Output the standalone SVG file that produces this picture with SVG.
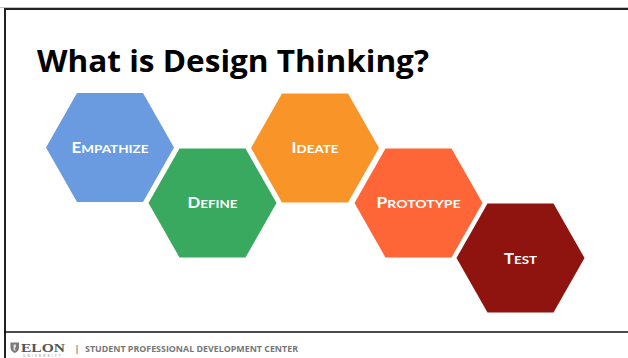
<svg xmlns="http://www.w3.org/2000/svg" width="628" height="358" viewBox="0 0 628 358">
  <defs>
    <style>
      .hexlabel { font-family: Lato, "Open Sans", "Liberation Sans", sans-serif; font-weight: 700; fill: #ffffff; text-anchor: middle; }
      .big { font-size: 15px; }
      .sm { font-size: 12px; }
    </style>
    <polygon id="hex" points="-64,0 -33,-54.5 33,-54.5 64,0 33,54.5 -33,54.5"/>
  </defs>
  <rect x="0" y="0" width="628" height="358" fill="#ffffff"/>

  <!-- slide frame -->
  <g id="frame" fill="none">
    <line x1="0" y1="7.6" x2="628" y2="7.6" stroke="#bbbbbb" stroke-width="1"/>
    <line x1="4" y1="9" x2="628" y2="9" stroke="#222222" stroke-width="2"/>
    <line x1="5" y1="8" x2="5" y2="358" stroke="#222222" stroke-width="2"/>
    <line x1="4" y1="332" x2="628" y2="332" stroke="#111111" stroke-width="1.5"/>
  </g>

  <!-- title -->
  <text id="title" x="37" y="72" font-family="'Open Sans', 'Noto Sans', 'Liberation Sans', sans-serif" font-weight="700" font-size="31" fill="#000000" textLength="392" lengthAdjust="spacingAndGlyphs">What is Design Thinking?</text>

  <!-- hexagon nodes -->
  <g id="node-empathize" transform="translate(110,147.5)">
    <use href="#hex" fill="#6A9BE0"/>
    <text class="hexlabel" x="0" y="5.5" textLength="77" lengthAdjust="spacingAndGlyphs"><tspan class="big">E</tspan><tspan class="sm">MPATHIZE</tspan></text>
  </g>
  <g id="node-define" transform="translate(212.5,203)">
    <use href="#hex" fill="#38A95F"/>
    <text class="hexlabel" x="0" y="4.5" textLength="50" lengthAdjust="spacingAndGlyphs"><tspan class="big">D</tspan><tspan class="sm">EFINE</tspan></text>
  </g>
  <g id="node-ideate" transform="translate(315,148)">
    <use href="#hex" fill="#F99528"/>
    <text class="hexlabel" x="0" y="5" textLength="47" lengthAdjust="spacingAndGlyphs"><tspan class="big">I</tspan><tspan class="sm">DEATE</tspan></text>
  </g>
  <g id="node-prototype" transform="translate(418.5,203)">
    <use href="#hex" fill="#FE6637"/>
    <text class="hexlabel" x="0" y="5" textLength="84" lengthAdjust="spacingAndGlyphs"><tspan class="big">P</tspan><tspan class="sm">ROTOTYPE</tspan></text>
  </g>
  <g id="node-test" transform="translate(520.5,258)">
    <use href="#hex" fill="#8F140F"/>
    <text class="hexlabel" x="0" y="5.5" textLength="33" lengthAdjust="spacingAndGlyphs"><tspan class="big">T</tspan><tspan class="sm">EST</tspan></text>
  </g>

  <!-- footer -->
  <g id="footer">
    <path d="M10.5,342.5 L19,342.5 L19,347.5 Q19,351 14.75,353 Q10.5,351 10.5,347.5 Z" fill="#7a7a7a"/>
    <path d="M13.5,344.5 L16,344.5 L16,347 L14.8,348.5 L16,351 L13.5,350 Z" fill="#dddddd"/>
    <text x="21" y="351.5" font-family="'Liberation Serif', serif" font-weight="700" font-size="12.5" fill="#555555" textLength="44" lengthAdjust="spacingAndGlyphs">ELON</text>
    <text x="23" y="356.6" font-family="'Liberation Sans', sans-serif" font-size="3.2" fill="#8a8a8a" textLength="38" lengthAdjust="spacing">UNIVERSITY</text>
    <text x="77" y="351.5" font-family="'Open Sans', 'Liberation Sans', sans-serif" font-weight="700" font-size="8" fill="#666666" text-anchor="middle">|</text>
    <text x="85" y="351.5" font-family="'Open Sans', 'Liberation Sans', sans-serif" font-weight="700" font-size="8" fill="#777777" textLength="213" lengthAdjust="spacingAndGlyphs">STUDENT PROFESSIONAL DEVELOPMENT CENTER</text>
  </g>
</svg>
